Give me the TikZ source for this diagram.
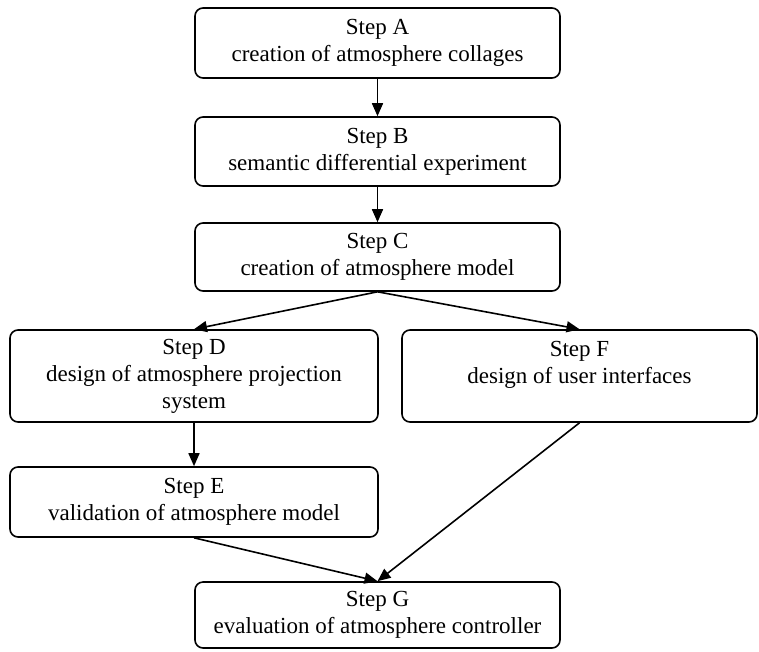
\documentclass[tikz,border=0pt]{standalone}
\usepackage{fontspec}
\setmainfont{Liberation Serif}
\usetikzlibrary{arrows.meta}
\tikzset{>={Triangle[length=13pt,width=11pt]}}
\tikzstyle{stepbox}=[draw,rounded corners=8pt,line width=1.6pt,align=center,inner sep=0pt,font=\fontsize{23}{27}\selectfont]
\tikzstyle{wide box}=[stepbox,minimum width=365pt]
\tikzstyle{side box}=[stepbox,minimum height=92pt]
\tikzstyle{link}=[->,line width=1.6pt]

\begin{document}
\begin{tikzpicture}[x=1pt,y=-1pt]
  \useasboundingbox (0,0) rectangle (759,651);
  \node[wide box,minimum height=70pt] (A) at (377.5,43) {Step A\\creation of atmosphere collages};
  \node[wide box,minimum height=69pt] (B) at (377.5,151.5) {Step B\\semantic differential experiment};
  \node[wide box,minimum height=68pt] (C) at (377.5,257) {Step C\\creation of atmosphere model};
  \node[side box,minimum width=368pt] (D) at (194,376) {Step D\\design of atmosphere projection\\system};
  \node[side box,minimum width=355pt] (F) at (579.5,376) {Step F\\design of user interfaces\\\mbox{}};
  \node[stepbox,minimum width=368pt,minimum height=70pt] (E) at (194,502) {Step E\\validation of atmosphere model};
  \node[wide box,minimum height=66pt] (G) at (377.5,615) {Step G\\evaluation of atmosphere controller};
  \draw[link] (A) -- (B);
  \draw[link] (B) -- (C);
  \draw[link] (C.south) -- (D.north);
  \draw[link] (C.south) -- (F.north);
  \draw[link] (D) -- (E);
  \draw[link] (E.south) -- (G.north);
  \draw[link] (F.south) -- (G.north);
\end{tikzpicture}
\end{document}
